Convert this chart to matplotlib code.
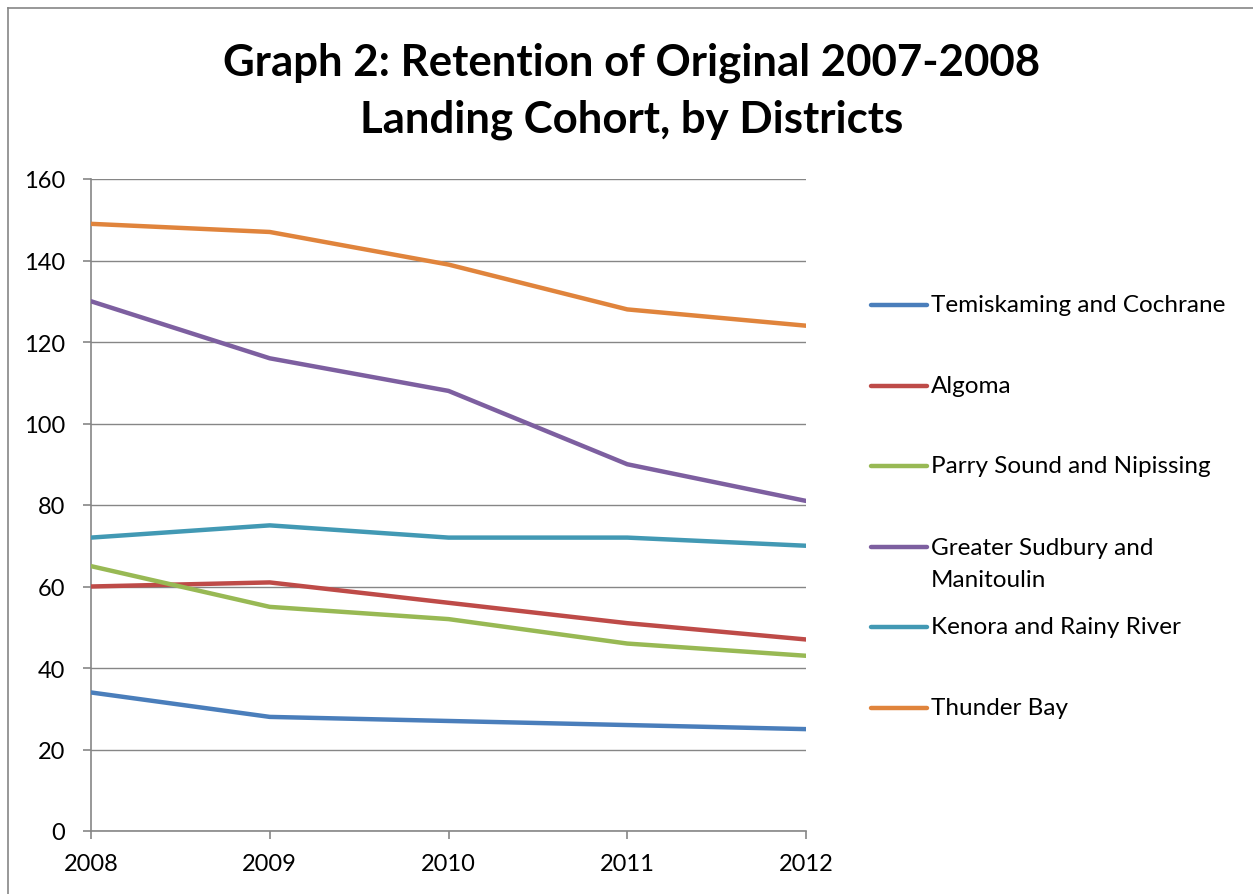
import matplotlib
matplotlib.use("Agg")
import matplotlib.pyplot as plt
from matplotlib.lines import Line2D

plt.rcParams['font.family'] = ['Lato', 'DejaVu Sans']

years = [2008, 2009, 2010, 2011, 2012]
temiskaming = [34, 28, 27, 26, 25]
algoma = [60, 61, 56, 51, 47]
parry_sound = [65, 55, 52, 46, 43]
sudbury = [130, 116, 108, 90, 81]
kenora = [72, 75, 72, 72, 70]
thunder_bay = [149, 147, 139, 128, 124]

labels = ["Temiskaming and Cochrane", "Algoma", "Parry Sound and Nipissing",
          "Greater Sudbury and\nManitoulin", "Kenora and Rainy River", "Thunder Bay"]
series = [temiskaming, algoma, parry_sound, sudbury, kenora, thunder_bay]
colors = ["#4A7EBB", "#BE4B48", "#98B954", "#7D5FA0", "#4299B4", "#E0843C"]
yticks = [0, 20, 40, 60, 80, 100, 120, 140, 160]

W, H = 1253, 895
fig = plt.figure(figsize=(W / 100, H / 100), dpi=100)
ax = fig.add_axes([91 / W, 1 - 832 / H, (806 - 91) / W, (832 - 180) / H])

for vals, c, lab in zip(series, colors, labels):
    ax.plot(years, vals, color=c, lw=3.2, solid_capstyle='round', label=lab, zorder=3)

ax.set_xlim(years[0], years[-1])
ax.set_ylim(0, 160)
ax.set_yticks(yticks)
ax.set_xticks(years)
ax.set_xticklabels([str(y) for y in years])
ax.grid(axis='y', color='#868686', lw=1.0, zorder=1)
for s in ['top', 'right']:
    ax.spines[s].set_visible(False)
for s in ['left', 'bottom']:
    ax.spines[s].set_color('#868686')
    ax.spines[s].set_linewidth(1.2)
ax.tick_params(axis='both', direction='out', length=6, width=1.2, color='#868686',
               labelsize=17, labelcolor='black')
ax.tick_params(axis='y', pad=12.5)
ax.tick_params(axis='x', pad=9.5)

fig.text(632 / W, 1 - 91 / H, "Graph 2: Retention of Original 2007-2008\nLanding Cohort, by Districts",
         ha='center', va='center', fontsize=31.5, fontweight='bold', linespacing=1.5)

# legend (manual, Excel style)
ys = [306, 387, 467, 548, 628, 709]
for yy, c, lab in zip(ys, colors, labels):
    fig.add_artist(Line2D([871 / W, 927 / W], [1 - yy / H, 1 - yy / H], color=c, lw=3.2,
                          solid_capstyle='round', transform=fig.transFigure))
    if '\n' in lab:
        fig.text(931 / W, 1 - (yy - 10) / H, lab, ha='left', va='top', fontsize=17.5,
                 linespacing=1.62)
    else:
        fig.text(931 / W, 1 - yy / H, lab, ha='left', va='center', fontsize=17.5)

# chart border
fig.add_artist(Line2D([8 / W, 8 / W], [0, 1 - 9 / H], color='#868686', lw=1.2, transform=fig.transFigure))
fig.add_artist(Line2D([8 / W, 1], [1 - 9 / H, 1 - 9 / H], color='#868686', lw=1.2, transform=fig.transFigure))

fig.savefig("out.png", dpi=100, facecolor='white')
